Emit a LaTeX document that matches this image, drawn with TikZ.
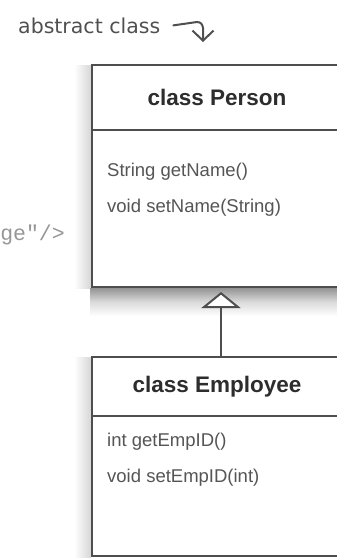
\documentclass[tikz,border=0pt]{standalone}
\usepackage{fontspec}
\setmainfont{Liberation Sans}
\newfontfamily\handfont{DejaVu Sans}
\newfontfamily\tagfont{Liberation Mono}
\usetikzlibrary{arrows.meta,positioning}
\definecolor{linegray} {RGB}{78,78,78}
\definecolor{headgray} {RGB}{45,45,45}
\definecolor{textgray} {RGB}{85,85,85}
\definecolor{notegray} {RGB}{80,80,80}
\definecolor{taggray}  {RGB}{150,150,150}
\tikzset{
  headbox/.style={draw=linegray, line width=2pt, fill=white,
                  outer sep=0pt, inner sep=0pt,
                  minimum width=250pt, minimum height=#1,
                  font=\bfseries\fontsize{22.5}{27}\selectfont, text=headgray},
  bodybox/.style={draw=linegray, line width=2pt, fill=white,
                  outer sep=0pt, inner sep=0pt,
                  minimum width=250pt, minimum height=#1},
  mtext/.style  ={font=\fontsize{18.5}{22}\selectfont, text=textgray,
                  inner sep=0pt, anchor=base west},
  note/.style   ={font=\handfont\fontsize{20.5}{24}\selectfont, text=notegray,
                  inner sep=1pt, anchor=base west},
  tagtext/.style={font=\tagfont\fontsize{21.5}{26}\selectfont, text=taggray,
                  inner sep=0pt, anchor=base east},
  inh/.style    ={-{Triangle[length=16pt,width=39pt,fill=white]},
                  line width=2pt, draw=linegray},
  harr/.style   ={-{Straight Barb[length=10pt,width=21pt]},
                  line width=2pt, draw=notegray, line cap=round},
  %% soft shades round the boxes
  sideshade/.style={left color=white, right color=black!16},
  dropshade/.style={top color=black!42, bottom color=white, middle color=black!14},
}
\begin{document}
\begin{tikzpicture}[x=1pt,y=-1pt]
  \useasboundingbox (0,0) rectangle (337,558);
  \shade[sideshade] (74,65) rectangle (91,288);
  \shade[sideshade] (74,357) rectangle (91,558);
  \shade[dropshade] (90,288) rectangle (345,316);
  %% class Person
  \node[headbox=65pt, anchor=north] (phead) at (217,65) {class Person};
  \node[bodybox=157pt, below=0pt of phead] (pbody) {};
  \node[mtext] (gname) at (107,176) {String getName()};
  \node[mtext] (sname) at (107,212) {void setName(String)};
  %% class Employee
  \node[headbox=59pt, anchor=north] (ehead) at (217,357) {class Employee};
  \node[bodybox=140pt, below=0pt of ehead] (ebody) {};
  \node[mtext] (gid) at (107,446) {int getEmpID()};
  \node[mtext] (sid) at (107,482) {void setEmpID(int)};
  \draw[inh] ([xshift=4pt]ehead.north) -- ([xshift=4pt,yshift=-5pt]pbody.south);
  %% note
  \node[note] (abs) at (17,33) {abstract class};
  \coordinate (abstip) at (203,42);
  \draw[harr] ([xshift=12pt]abs.east) -- (197,22) .. controls (205,22) and (203,32) .. (abstip);
  \node[tagtext] (tag) at (65,240) {ge"/>};
\end{tikzpicture}
\end{document}
